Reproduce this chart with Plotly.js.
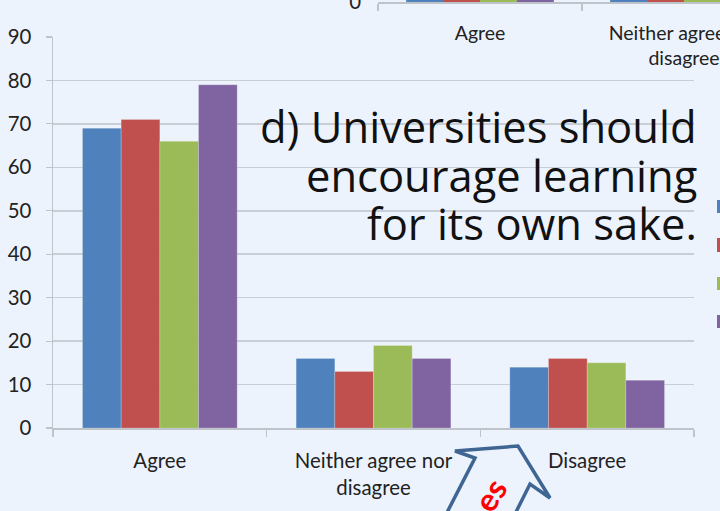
<!DOCTYPE html>
<html>
<head>
<meta charset="utf-8">
<script src="https://cdn.plot.ly/plotly-3.0.1.min.js"></script>
<style>
html,body{margin:0;padding:0;background:#EDF3FC;}
#chart{width:720px;height:511px;}
</style>
</head>
<body>
<div id="chart"></div>
<script>
// ---- data ----
var categories = ["Agree", "Neither agree nor<br>disagree", "Disagree"];
var seriesNames = ["Series 1", "Series 2", "Series 3", "Series 4"];
var seriesColors = ["#4F81BD", "#C0504D", "#9BBB59", "#8064A2"];
var series1 = [69, 16, 14];
var series2 = [71, 13, 16];
var series3 = [66, 19, 15];
var series4 = [79, 16, 11];
var yTickVals = [0, 10, 20, 30, 40, 50, 60, 70, 80, 90];
// previous panel (cut off at the top edge): only the bases of its bars are visible
var prevCategories = ["Agree", "Neither agree nor<br>disagree", "Disagree"];
var prevVisible = [1, 1, 1];

var titleLines = ["d) Universities should", "encourage learning", "for its own sake."];

// ---- helpers (pixel -> paper) ----
var W = 720, H = 511;
function px(x){ return x / W; }
function py(y){ return 1 - y / H; }

var allSeries = [series1, series2, series3, series4];
var traces = [];
for (var i = 0; i < 4; i++) {
  traces.push({
    type: "bar", x: categories, y: allSeries[i], name: seriesNames[i],
    marker: {color: seriesColors[i], line: {color: "rgba(255,255,255,0.35)", width: 0.6}},
    xaxis: "x", yaxis: "y", showlegend: false, hoverinfo: "none"
  });
}
for (var j = 0; j < 4; j++) {
  traces.push({
    type: "bar", x: prevCategories, y: prevVisible, name: seriesNames[j],
    marker: {color: seriesColors[j]},
    xaxis: "x2", yaxis: "y2", showlegend: false, hoverinfo: "none"
  });
}

var font = "Lato, 'Open Sans', sans-serif";
var titleFont = "'Open Sans', Lato, sans-serif";
var axisGray = "#BFC3CA";
var gridGray = "#C9CDD4";

var shapes = [];
// legend keys cut off at the right edge
var keyY = [[200, 213], [238, 252], [277, 290], [315, 328]];
for (var k = 0; k < 4; k++) {
  shapes.push({type: "rect", xref: "paper", yref: "paper",
    x0: px(717), x1: px(726), y0: py(keyY[k][1]), y1: py(keyY[k][0]),
    fillcolor: seriesColors[k], line: {width: 0}});
}
// block arrow outline at the bottom
var arrowPts = [[438, 530], [475, 458], [455, 451], [518, 446], [550, 498], [530, 484], [507, 530]];
var pth = "";
for (var a = 0; a < arrowPts.length; a++) {
  pth += (a === 0 ? "M " : " L ") + px(arrowPts[a][0]) + "," + py(arrowPts[a][1]);
}
shapes.push({type: "path", xref: "paper", yref: "paper", path: pth,
  line: {color: "#3F6593", width: 3.5}, fillcolor: "rgba(0,0,0,0)"});

var annotations = [];
var titleY = [126, 175, 223];
for (var t = 0; t < titleLines.length; t++) {
  annotations.push({xref: "paper", yref: "paper", x: px(699), y: py(titleY[t]),
    xanchor: "right", yanchor: "middle", text: titleLines[t], showarrow: false,
    font: {family: titleFont, size: 43.5, color: "#111111"}});
}
annotations.push({xref: "paper", yref: "paper", x: px(489), y: py(495),
  xanchor: "center", yanchor: "middle",
  text: "<b>es</b>", textangle: -58, showarrow: false,
  font: {family: font, size: 32, color: "#FF0000"}});

var layout = {
  width: W, height: H,
  margin: {l: 0, r: 0, t: 0, b: 0},
  paper_bgcolor: "#EDF3FC", plot_bgcolor: "rgba(0,0,0,0)",
  barmode: "group", bargap: 0.276, bargroupgap: 0,
  showlegend: false,
  font: {family: font, color: "#222222"},
  xaxis: {
    domain: [px(53), px(694)], anchor: "y", type: "category",
    range: [-0.5, 2.5], fixedrange: true,
    showline: true, linecolor: axisGray, linewidth: 1.5,
    ticks: "outside", tickson: "boundaries", ticklen: 7, tickcolor: axisGray, tickwidth: 1.2,
    showgrid: false, tickfont: {family: font, size: 20.4, color: "#222222"},
    ticklabelstandoff: 14
  },
  yaxis: {
    domain: [py(428), py(37)], anchor: "x",
    range: [0, 90], tickvals: yTickVals, fixedrange: true,
    showline: true, linecolor: axisGray, linewidth: 1.5,
    ticks: "outside", ticklen: 6, tickcolor: axisGray, tickwidth: 1.2,
    showgrid: true, gridcolor: gridGray, gridwidth: 1.5, zeroline: false,
    tickfont: {family: font, size: 20.4, color: "#222222"},
    ticklabelstandoff: 10
  },
  xaxis2: {
    domain: [px(378), 1], anchor: "y2", type: "category",
    range: [-0.5, -0.5 + 342 / 204], fixedrange: true,
    showline: true, linecolor: axisGray, linewidth: 1.5,
    ticks: "outside", tickson: "boundaries", ticklen: 7, tickcolor: axisGray, tickwidth: 1.2,
    showgrid: false, tickfont: {family: font, size: 19.5, color: "#222222"},
    ticklabelstandoff: 13
  },
  yaxis2: {
    domain: [py(2), 1], anchor: "x2",
    range: [0, 1], tickvals: [0], fixedrange: true,
    showline: false, ticks: "", showgrid: false, zeroline: false,
    ticklabeloverflow: "allow",
    tickfont: {family: font, size: 20.4, color: "#222222"},
    ticklabelstandoff: 16
  },
  shapes: shapes,
  annotations: annotations
};

Plotly.newPlot("chart", traces, layout, {displayModeBar: false, staticPlot: true});
</script>
</body>
</html>
